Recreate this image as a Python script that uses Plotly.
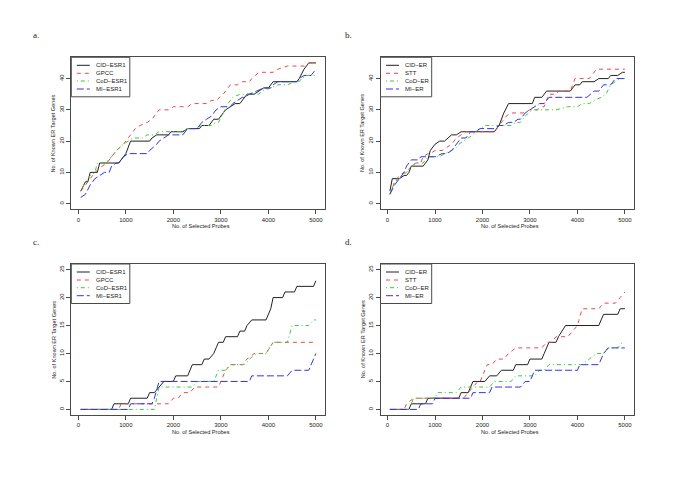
import plotly.graph_objects as go

# ---------------- data ----------------
x_ticks = [0, 1000, 2000, 3000, 4000, 5000]
y_ticks_top = [0, 10, 20, 30, 40]
y_ticks_bottom = [0, 5, 10, 15, 20, 25]

# panel a
a_cid_x = [50,150,200,250,400,450,850,1000,1100,1500,1550,1650,1900,1950,2200,2300,2550,2600,2750,2800,2850,2950,3100,3200,3300,3400,3500,3550,3700,3800,3900,4000,4100,4600,4650,4750,4850,5000]
a_cid_y = [4,7,7,10,10,13,13,16,20,20,21,22,22,23,23,24,24,25,25,26,27,27,30,31,32,32,34,35,35,36,37,37,39,39,40,43,45,45]
a_gpcc_x = [50,150,250,350,500,600,700,800,950,1000,1100,1200,1300,1450,1550,1650,1700,1900,2000,2300,2400,2700,2800,2900,3050,3200,3350,3450,3600,3650,3800,4100,4200,4400,4800,4850,5000]
a_gpcc_y = [4,6,8,10,12,13,15,17,19,20,22,24,25,26,27,29,30,30,31,31,32,32,33,33,35,38,38,39,39,40,42,42,43,44,44,45,45]
a_cod_x = [50,150,250,350,400,550,700,800,950,1050,1150,1350,1450,1600,1700,2200,2250,2450,2600,2800,2900,2950,3050,3150,3250,3400,3800,3850,4050,4200,4400,4550,4650,4700,4800,5000]
a_cod_y = [4,7,9,10,13,13,15,17,19,20,21,21,22,22,23,23,24,24,25,25,26,26,29,32,34,35,35,36,37,38,38,39,39,40,41,41]
a_mi_x = [50,150,250,350,450,550,650,700,800,850,950,1050,1450,1500,1650,1700,1800,1900,2200,2250,2300,2500,2550,2600,2700,2800,2900,3000,3200,3250,3350,3450,3500,3600,3750,3900,4050,4100,4200,4600,4650,4750,4900,5000]
a_mi_y = [2,3,6,8,9,10,10,12,13,13,15,16,16,17,19,20,21,22,22,23,24,24,25,26,27,28,30,31,31,32,33,34,34,35,36,37,37,38,39,39,40,41,41,43]

# panel b
b_cid_x = [50,100,250,350,400,450,500,750,850,900,1000,1100,1200,1350,1450,1550,2250,2350,2450,2550,3050,3100,3250,3350,3850,3950,4050,4100,4350,4450,4650,4700,4850,4950,5000]
b_cid_y = [4,8,8,9,9,10,12,12,14,17,19,20,20,22,22,23,23,25,29,32,32,34,34,36,36,38,38,39,39,40,40,41,41,42,42]
b_stt_x = [50,150,250,350,450,500,600,700,750,850,900,1000,1150,1250,1350,1450,1550,1650,2250,2300,2400,2500,2600,2850,3000,3150,3250,3300,3400,3550,3600,3850,3950,4250,4300,4400,5000]
b_stt_y = [3,7,9,10,11,12,13,13,15,16,16,17,17,18,19,21,22,23,23,24,26,28,29,29,30,30,31,31,35,35,36,36,40,40,41,43,43]
b_cod_x = [50,150,250,300,400,500,600,750,850,1100,1200,1350,1450,1500,1600,1700,1800,1850,1950,2050,2600,2700,2800,2900,3050,3550,3800,4000,4100,4250,4350,4500,4600,4700,4800,4900,5000]
b_cod_y = [3,7,8,9,10,12,13,13,15,15,16,17,18,19,20,21,22,23,24,25,25,26,26,28,30,30,31,31,32,32,33,34,35,38,39,40,40]
b_mi_x = [50,150,250,300,350,400,500,650,700,1000,1150,1250,1350,1450,1550,1650,1750,1850,1950,2250,2350,2450,2550,2650,2750,2800,2900,3000,3100,3200,3300,3400,4200,4350,4450,4550,4700,4800,5000]
b_mi_y = [3,6,8,9,10,12,14,14,15,15,16,16,17,19,21,21,23,23,24,24,25,25,26,26,27,27,29,30,31,32,32,34,34,36,36,38,38,40,40]

# panel c
c_cid_x = [50,700,750,1050,1100,1450,1500,1600,1700,1800,2000,2050,2300,2350,2400,2600,2650,2750,2850,2900,2950,3050,3100,3350,3400,3500,3550,3650,3950,4050,4100,4300,4350,4550,4600,4950,5000]
c_cid_y = [0,0,1,1,2,2,3,3,4,5,5,6,6,7,8,8,9,9,10,11,12,12,13,13,14,14,15,16,16,18,20,20,21,21,22,22,23]
c_gpcc_x = [50,850,900,1900,2000,2100,2200,2350,2450,2950,3000,3100,3200,3450,3550,3700,3950,4100,5000]
c_gpcc_y = [0,0,1,1,2,2,3,3,4,4,5,7,8,8,9,10,10,12,12]
c_cod_x = [50,1600,1700,2400,2500,2850,2950,3100,3200,3500,3600,3750,3950,4100,4400,4500,4850,4950,5000]
c_cod_y = [0,0,4,4,5,5,7,7,8,8,9,10,10,12,12,15,15,16,16]
c_mi_x = [50,1050,1100,1550,1600,1700,3600,3650,4400,4500,4850,5000]
c_mi_y = [0,0,1,1,2,5,5,6,6,7,7,10]

# panel d
d_cid_x = [50,450,500,800,850,1500,1550,1700,1800,2050,2150,2300,2400,2650,2700,2950,3000,3250,3300,3400,3550,3600,3750,4450,4550,4850,4900,5000]
d_cid_y = [0,0,1,1,2,2,3,3,5,5,6,6,7,7,8,8,9,9,10,12,12,13,15,15,17,17,18,18]
d_stt_x = [50,350,400,550,1600,1700,1800,1900,1950,2100,2200,2300,2450,2550,2700,3250,3350,3450,3550,3800,3900,4000,4100,4450,4550,4800,4900,5000]
d_stt_y = [0,0,1,2,2,3,4,5,5,8,8,9,9,10,11,11,12,12,13,13,14,15,18,18,19,19,20,21]
d_cod_x = [50,450,550,1000,1050,1450,1550,2150,2250,2600,2700,3100,3200,3300,3400,4100,4250,4400,4550,4650,4850,4950,5000]
d_cod_y = [0,0,2,2,3,3,4,4,5,5,6,6,7,7,8,8,9,10,10,11,11,12,12]
d_mi_x = [50,650,700,950,1000,1750,1800,2150,2200,2800,2900,3000,3100,4000,4050,4450,4550,4650,5000]
d_mi_y = [0,0,1,1,2,2,3,3,4,4,5,5,7,7,8,8,10,11,11]

names_esr1 = ["CID\u2212ESR1", "GPCC", "CoD\u2212ESR1", "MI\u2212ESR1"]
names_er = ["CID\u2212ER", "STT", "CoD\u2212ER", "MI\u2212ER"]
panel_labels = ["a.", "b.", "c.", "d."]
x_title = "No. of Selected Probes"
y_title = "No. of Known ER Target Genes"

# ---------------- styles ----------------
# the page body has an 8px margin, so the figure is 669x468 placed at (8, 8)
OFF = 8
W, H = 685 - 2 * OFF, 484 - 2 * OFF
colors = ["#222222", "#e84848", "#3cc83c", "#3434e0"]
dashes = ["solid", "4px,4px", "1px,3px,4px,3px", "7px,3px"]
FONT = "Liberation Sans, Arial, sans-serif"
BOX = "#4a4a4a"

def px(xp):
    return (xp - OFF) / W

def py(yp):
    return 1 - (yp - OFF) / H

# panel geometry in window pixels: (left, right, top, bottom)
panels = [
    dict(l=71.3, r=325.3, t=57.3, b=209.3, yr=[-1.8, 46.8], yt=y_ticks_top, names=names_esr1,
         series=[(a_cid_x, a_cid_y), (a_gpcc_x, a_gpcc_y), (a_cod_x, a_cod_y), (a_mi_x, a_mi_y)],
         lab=(36, 35), ytx=53.3, legw=58.5),
    dict(l=380.5, r=634.3, t=57.3, b=209.3, yr=[-1.8, 46.8], yt=y_ticks_top, names=names_er,
         series=[(b_cid_x, b_cid_y), (b_stt_x, b_stt_y), (b_cod_x, b_cod_y), (b_mi_x, b_mi_y)],
         lab=(349, 35), ytx=362.7, legw=51.2),
    dict(l=71.3, r=325.3, t=264, b=415, yr=[-1, 26], yt=y_ticks_bottom, names=names_esr1,
         series=[(c_cid_x, c_cid_y), (c_gpcc_x, c_gpcc_y), (c_cod_x, c_cod_y), (c_mi_x, c_mi_y)],
         lab=(36, 242), ytx=53.3, legw=58.5),
    dict(l=380.5, r=634.3, t=264, b=415, yr=[-1, 26], yt=y_ticks_bottom, names=names_er,
         series=[(d_cid_x, d_cid_y), (d_stt_x, d_stt_y), (d_cod_x, d_cod_y), (d_mi_x, d_mi_y)],
         lab=(349, 242), ytx=362.7, legw=51.2),
]

fig = go.Figure()
shapes = []
annotations = []
layout_axes = {}

for i, p in enumerate(panels):
    k = "" if i == 0 else str(i + 1)
    for j, (sx, sy) in enumerate(p["series"]):
        fig.add_trace(go.Scatter(
            x=sx, y=sy, mode="lines", name=p["names"][j], showlegend=False,
            line=dict(color=colors[j], width=1, dash=dashes[j]),
            xaxis="x" + k, yaxis="y" + k, hoverinfo="skip"))
    axcommon = dict(showline=True, mirror=True, linecolor=BOX, linewidth=1,
                    ticks="outside", ticklen=4, tickwidth=1, tickcolor=BOX,
                    showgrid=False, zeroline=False,
                    tickfont=dict(family=FONT, size=6, color="#222"))
    layout_axes["xaxis" + k] = dict(axcommon, domain=[px(p["l"]), px(p["r"])],
                                    range=[-148, 5198], tickvals=x_ticks,
                                    anchor="y" + k)
    layout_axes["yaxis" + k] = dict(axcommon, domain=[py(p["b"]), py(p["t"])],
                                    range=p["yr"], tickvals=p["yt"], tickangle=-90,
                                    anchor="x" + k)
    # axis titles
    annotations.append(dict(text=x_title, x=px((p["l"] + p["r"]) / 2 + 3), y=py(p["b"] + 16.5),
                            xref="paper", yref="paper", showarrow=False,
                            font=dict(family=FONT, size=5.6, color="#222"),
                            xanchor="center", yanchor="middle"))
    annotations.append(dict(text=y_title, x=px(p["ytx"]), y=py((p["t"] + p["b"]) / 2),
                            xref="paper", yref="paper", showarrow=False, textangle=-90,
                            font=dict(family=FONT, size=5.6, color="#222"),
                            xanchor="center", yanchor="middle"))
    # panel label
    annotations.append(dict(text=panel_labels[i], x=px(p["lab"][0]), y=py(p["lab"][1]),
                            xref="paper", yref="paper", showarrow=False,
                            font=dict(family="Liberation Serif, serif", size=9, color="#222"),
                            xanchor="center", yanchor="middle"))
    # legend (key)
    lt = p["t"]
    shapes.append(dict(type="rect", xref="paper", yref="paper",
                       x0=px(p["l"]), x1=px(p["l"] + p["legw"]), y0=py(lt + 39.5), y1=py(lt),
                       line=dict(color=BOX, width=1), fillcolor="white", layer="above"))
    for j, off in enumerate([8, 16, 23.7, 31.7]):
        shapes.append(dict(type="line", xref="paper", yref="paper",
                           x0=px(p["l"] + 5.5), x1=px(p["l"] + 18.5), y0=py(lt + off), y1=py(lt + off),
                           line=dict(color=colors[j], width=1, dash=dashes[j]), layer="above"))
        annotations.append(dict(text=p["names"][j], x=px(p["l"] + 22.5), y=py(lt + off),
                                xref="paper", yref="paper", showarrow=False,
                                font=dict(family=FONT, size=6, color="#222"),
                                xanchor="left", yanchor="middle"))

fig.update_layout(
    width=W, height=H, margin=dict(l=0, r=0, t=0, b=0),
    paper_bgcolor="white", plot_bgcolor="white",
    shapes=shapes, annotations=annotations, showlegend=False,
    **layout_axes)

fig.write_html("out.html")
